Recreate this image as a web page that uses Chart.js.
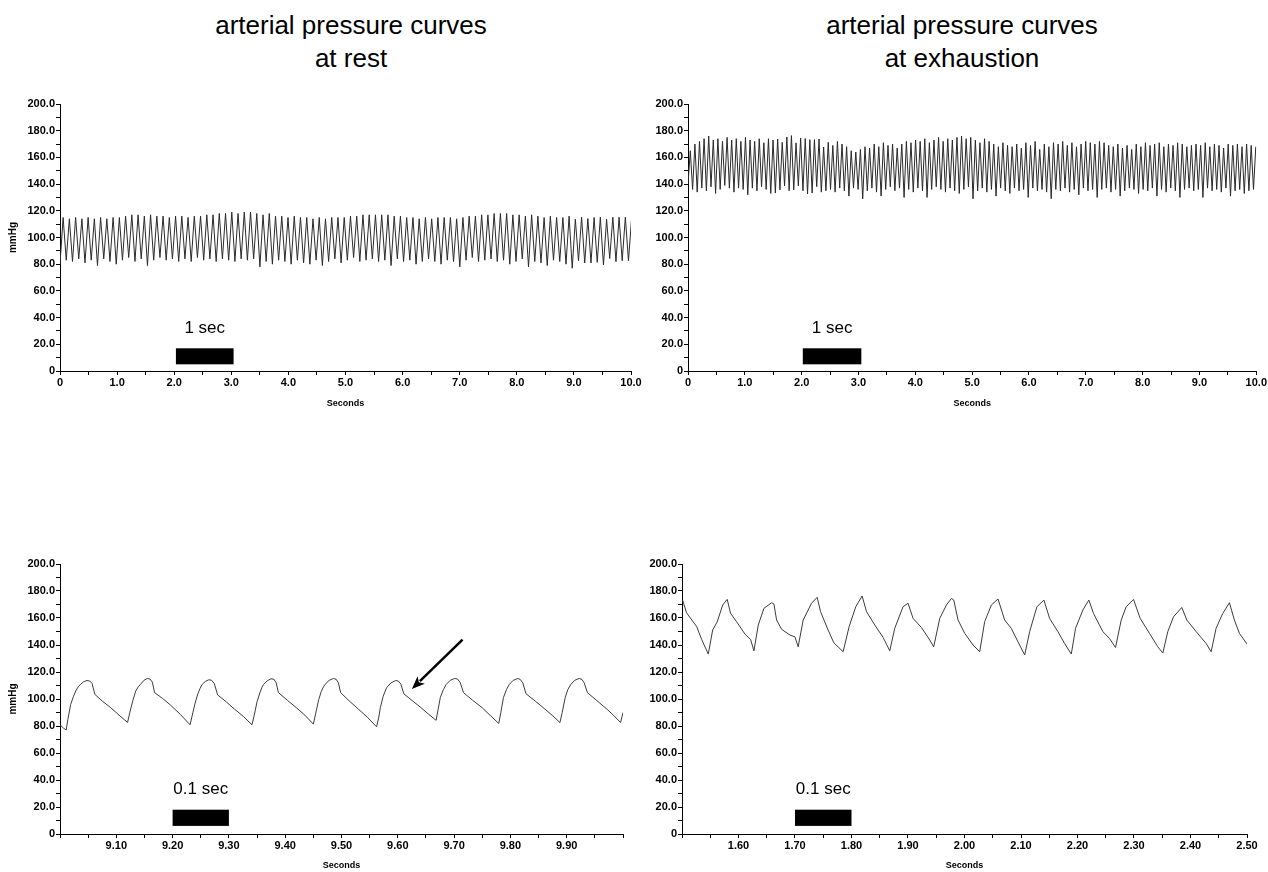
<!DOCTYPE html>
<html>
<head>
<meta charset="utf-8">
<title>arterial pressure curves</title>
<script src="https://cdn.jsdelivr.net/npm/chart.js@4.4.1/dist/chart.umd.min.js"></script>
<style>
  body { margin: 0; background: #fff; font-family: "Liberation Sans", Arial, sans-serif; }
  #page { position: relative; width: 1268px; height: 872px; overflow: hidden; }
  .title { position: absolute; width: 600px; text-align: center; font-size: 26px; line-height: 33px; color: #000; }
  canvas { position: absolute; }
</style>
</head>
<body>
<div id="page">
  <div class="title" style="left:51px; top:9px;">arterial pressure curves<br>at rest</div>
  <div class="title" style="left:662px; top:9px;">arterial pressure curves<br>at exhaustion</div>
  <canvas id="restOverview" width="645" height="330" style="left:0; top:90px;"></canvas>
  <canvas id="exhOverview" width="628" height="330" style="left:640px; top:90px;"></canvas>
  <canvas id="restDetail" width="640" height="322" style="left:0; top:550px;"></canvas>
  <canvas id="exhDetail" width="628" height="322" style="left:640px; top:550px;"></canvas>
</div>
<script>
// 10 s overview: one trough and one peak per beat (mmHg)
var restHalfBeat = 0.0547;
var restTroughs = [80,83,82,84,81,83,79,84,82,80,
    83,85,82,84,79,83,85,83,84,82,
    84,82,85,83,84,82,84,83,82,84,
    83,84,78,82,80,83,82,80,83,81,
    80,83,79,82,84,81,83,85,82,83,
    84,82,83,79,84,82,83,80,82,84,
    82,80,83,82,78,83,85,82,83,84,
    82,83,80,82,84,78,82,81,79,83,
    82,80,77,82.6,80.9,80.9,81.4,79.4,84.2,81.9,82.6,82.6];
var restPeaks = [115,114,115,114,115,114,115,114,115,115,
    116,117,117,116,117,116,116,115,116,116,
    115,116,116,117,117,118,118,119,118,119,
    119,118,117,118,116,116,115,116,115,115,
    114,115,114,115,115,115,116,116,117,117,
    117,117,117,116,116,115,115,114,115,114,
    115,115,115,114,115,116,116,117,117,118,
    118,118,117,117,116,117,116,115,116,115,
    115,116,113.7,115.2,114.2,115,115.2,113.7,115.2,115.2,115.2,114];

var exhHalfBeat = 0.04045;
var exhTroughs = [140,136,134,137,135,138,133,136,139,137,
    134,137,136,132,137,135,138,136,133,133.3,
    135.7,138.7,135,135.7,138.7,135,132.6,133.3,138.1,134,
    135,136,134,137,135,131,137,136,129,135,
    137,134,131,136,138,135,137,130,136,134,
    137,135,130,136,138,136,134,137,135,133,
    136,138,129,135,137,134,136,131,137,135,
    133,137,135,136,130,137,135,136,134,129,
    136,135,137,134,136,132,137,135,136,130,
    136,137,134,136,131,135,137,136,133,136,
    135,137,131,136,134,137,135,130,136,137,
    135,136,130,137,135,136,134,137,131,135,136,133,135,136];
var exhPeaks = [165,170,172,174,176,173,174,172,175,173,
    174,172,175,173,172,174,171,174,173,173.8,
    171.3,175.3,176.3,170.9,174.5,174.1,173.3,173.3,173.8,167.8,
    171.3,169,172,170,168,165,164,166,168,167,
    170,168,171,169,170,167,170,172,171,173,
    172,174,171,173,175,172,174,173,175,176,
    174,175,173,171,174,172,170,168,171,169,
    168,170,167,171,169,172,166,170,168,171,
    170,172,169,171,168,170,172,171,170,172,
    171,169,168,170,167,169,166,170,168,171,
    169,170,171,168,170,169,171,170,168,169,
    170,169,171,168,170,169,167,170,169,170,168,170,169,168];

// 1 s detail traces
var restDetailTime = [9.000,9.006,9.011,9.014,9.019,9.024,9.028,9.033,9.037,9.042,9.048,9.053,9.057,9.062,9.075,9.090,9.105,9.120,
    9.124,9.1295,9.1345,9.139,9.143,9.149,9.155,9.160,9.164,9.168,9.182,9.196,9.214,9.231,
    9.235,9.240,9.245,9.249,9.2525,9.258,9.264,9.269,9.274,9.280,9.295,9.310,9.326,9.341,
    9.345,9.350,9.355,9.3585,9.3615,9.368,9.3747,9.380,9.384,9.388,9.404,9.420,9.435,9.450,
    9.454,9.4595,9.464,9.468,9.4708,9.478,9.4855,9.4905,9.4945,9.4985,9.514,9.530,9.546,9.5623,
    9.566,9.569,9.574,9.580,9.588,9.5965,9.601,9.6055,9.6106,9.625,9.640,9.654,9.668,
    9.6715,9.6755,9.681,9.686,9.693,9.7009,9.706,9.7105,9.7168,9.733,9.750,9.765,9.7793,
    9.783,9.7876,9.793,9.798,9.805,9.813,9.8175,9.822,9.8277,9.844,9.860,9.874,9.888,
    9.892,9.8973,9.902,9.9074,9.914,9.9221,9.927,9.931,9.9368,9.953,9.970,9.983,9.9957,10.0];
var restDetailPressure = [80.9,78.5,77.0,85,96,102,106,109.5,111,112.8,113.7,113.3,111.5,103.4,98.5,93.6,88,82.6,
    90,99,105.9,109,110.8,113.8,115.2,114.8,112.5,104.7,100.5,95.6,88.5,80.9,
    88,97,104,108,110.8,113,114.2,114,111.5,103,98,92.5,87,80.9,
    88,98,104.5,108.5,110.8,113.5,115,114.6,112,104.7,99,93.5,88,81.4,
    89,99.5,105.5,109,110.8,113.8,115.2,114.6,112,104.7,98.5,92.5,86.5,79.4,
    86,93.6,102,108.3,112,113.7,113.3,111,103.9,99,94,89,84.2,
    92,101,107,110.8,113.8,115.2,114.8,112.5,104.7,99,93.5,87.5,81.9,
    90,101,107,110.8,113.8,115.2,114.5,112,103.9,98.5,93,88,82.6,
    90,101,107,110.8,113.8,115.2,114.5,112,104.7,99,93,88,82.6,90];

var exhDetailTime = [1.501,1.508,1.526,1.5348,1.5465,1.5543,1.5624,1.572,1.580,1.586,1.5967,1.6114,1.6214,1.6273,
    1.635,1.645,1.6586,1.6627,1.6674,1.6763,1.691,1.700,1.7056,
    1.7145,1.7292,1.7392,1.7452,1.7586,1.7687,1.7852,
    1.7958,1.8076,1.8188,1.8266,1.8412,1.856,1.8677,
    1.8766,1.8913,1.9001,1.909,1.9237,1.9385,1.9455,
    1.9562,1.968,1.9768,1.981,1.9886,2.0004,2.0151,2.0269,
    2.0357,2.0475,2.0593,2.0711,2.083,2.0947,2.1065,
    2.1153,2.1282,2.1406,2.1506,2.1653,2.1772,2.189,
    2.1966,2.2095,2.2201,2.2284,2.2449,2.2567,2.2673,
    2.2774,2.2862,2.2991,2.311,2.3274,2.3421,2.351,
    2.3598,2.3699,2.3846,2.3935,2.41,2.4277,2.4365,
    2.4453,2.457,2.4689,2.4777,2.4866,2.5013];
var exhDetailPressure = [173.3,163.9,153.6,144.1,133.3,151.1,157.2,169.6,173.8,163.4,157.2,148.1,144.1,135.7,
    154.8,167.2,171.3,170.4,158.5,151.6,147.4,146,138.7,
    158.5,170.9,175.3,164.7,151.1,141.7,135,
    153.6,168.4,176.3,164.7,154.8,145.6,135.7,
    152.4,168.4,170.9,159.7,153,143.7,138.7,
    159.7,169.6,174.5,173.3,158.5,148.6,140,135,
    157.2,169.6,174.1,158.5,152.2,142.3,132.6,
    149.9,168.4,173.3,159.7,149.9,141.1,133.3,
    152.4,165.9,173.3,163.3,149.9,144.8,138.1,
    158.5,168.4,173.8,159.7,148.6,138.7,134,
    149.9,160.9,167.8,158.5,149.9,141.1,135,
    152.4,163.3,171.3,158.5,148.6,140];

// axes
var pressureTicks = [0,10,20,30,40,50,60,70,80,90,100,110,120,130,140,150,160,170,180,190,200];
var overviewTicks = [0,0.5,1,1.5,2,2.5,3,3.5,4,4.5,5,5.5,6,6.5,7,7.5,8,8.5,9,9.5,10];
var restDetailTicks = [9.00,9.05,9.10,9.15,9.20,9.25,9.30,9.35,9.40,9.45,9.50,9.55,9.60,9.65,9.70,9.75,9.80,9.85,9.90,9.95,10.00];
var restDetailLabels = ['9.10','9.20','9.30','9.40','9.50','9.60','9.70','9.80','9.90'];
var exhDetailTicks = [1.50,1.55,1.60,1.65,1.70,1.75,1.80,1.85,1.90,1.95,2.00,2.05,2.10,2.15,2.20,2.25,2.30,2.35,2.40,2.45,2.50];
var exhDetailLabels = ['1.60','1.70','1.80','1.90','2.00','2.10','2.20','2.30','2.40','2.50'];

// scale bars [from, to, bottom, top] and their labels
var restOverviewBar = [2.03, 3.04, 5, 17];
var exhOverviewBar = [2.02, 3.05, 5, 17];
var restDetailBar = [9.20, 9.30, 6, 18];
var exhDetailBar = [1.70, 1.80, 6, 18];
var overviewBarText = '1 sec';
var detailBarText = '0.1 sec';

// arrow on the dicrotic notch: [sec, mmHg] tail and tip
var notchArrowFrom = [9.715, 144];
var notchArrowTo = [9.625, 107.4];

function beatsToPoints(troughs, peaks, halfBeat) {
    var pts = [];
    for (var i = 0; i < troughs.length; i++) {
        pts.push({ x: 2 * i * halfBeat, y: troughs[i] });
        if (i < peaks.length) pts.push({ x: (2 * i + 1) * halfBeat, y: peaks[i] });
    }
    return pts;
}

function zipPoints(xs, ys) {
    return xs.map(function (x, i) { return { x: x, y: ys[i] }; });
}

var overlayPlugin = {
    id: 'overlay',
    afterDatasetsDraw: function (chart, args, opts) {
        var ctx = chart.ctx, xs = chart.scales.x, ys = chart.scales.y;
        ctx.save();
        if (opts.bar) {
            var b = opts.bar;
            var x0 = xs.getPixelForValue(b[0]), x1 = xs.getPixelForValue(b[1]);
            var y0 = ys.getPixelForValue(b[3]), y1 = ys.getPixelForValue(b[2]);
            ctx.fillStyle = '#000';
            ctx.fillRect(x0, y0, x1 - x0, y1 - y0);
            ctx.font = '17px "Liberation Sans", Arial, sans-serif';
            ctx.textAlign = 'center';
            ctx.textBaseline = 'middle';
            ctx.fillText(opts.text, (x0 + x1) / 2, ys.getPixelForValue(opts.textAt));
        }
        if (opts.arrow) {
            var ax = xs.getPixelForValue(opts.arrow[0][0]), ay = ys.getPixelForValue(opts.arrow[0][1]);
            var bx = xs.getPixelForValue(opts.arrow[1][0]), by = ys.getPixelForValue(opts.arrow[1][1]);
            var ang = Math.atan2(by - ay, bx - ax);
            var head = 14;
            ctx.strokeStyle = '#000';
            ctx.fillStyle = '#000';
            ctx.lineWidth = 2.5;
            ctx.beginPath();
            ctx.moveTo(ax, ay);
            ctx.lineTo(bx - Math.cos(ang) * head * 0.8, by - Math.sin(ang) * head * 0.8);
            ctx.stroke();
            ctx.beginPath();
            ctx.moveTo(bx, by);
            ctx.lineTo(bx - head * Math.cos(ang - 0.38), by - head * Math.sin(ang - 0.38));
            ctx.lineTo(bx - head * 0.7 * Math.cos(ang), by - head * 0.7 * Math.sin(ang));
            ctx.lineTo(bx - head * Math.cos(ang + 0.38), by - head * Math.sin(ang + 0.38));
            ctx.closePath();
            ctx.fill();
        }
        ctx.restore();
    }
};

var tickFont = { family: '"Liberation Sans", Arial, sans-serif', size: 11, weight: 'bold' };

function makeChart(id, c) {
    return new Chart(document.getElementById(id), {
        type: 'line',
        data: {
            datasets: [{
                data: c.points,
                borderColor: c.color,
                borderWidth: 1,
                pointRadius: 0,
                tension: 0
            }]
        },
        options: {
            responsive: false,
            animation: false,
            events: [],
            layout: { autoPadding: false, padding: { left: 0, top: 14, right: c.padRight, bottom: 0 } },
            plugins: {
                legend: { display: false },
                tooltip: { enabled: false },
                overlay: { bar: c.bar, text: c.barText, textAt: c.barTextAt, arrow: c.arrow }
            },
            scales: {
                x: {
                    type: 'linear',
                    min: c.xMin,
                    max: c.xMax,
                    afterBuildTicks: function (s) { s.ticks = c.xTicks.map(function (v) { return { value: v }; }); },
                    afterFit: function (s) { s.height = c.xHeight; },
                    ticks: {
                        autoSkip: false, maxRotation: 0, padding: 1, color: '#000', font: tickFont,
                        callback: c.xLabel
                    },
                    grid: { drawOnChartArea: false, drawTicks: true, tickLength: 4, color: '#000' },
                    border: { display: true, color: '#000', width: 1 },
                    title: {
                        display: true, text: 'Seconds', color: '#000',
                        font: { family: '"Liberation Sans", Arial, sans-serif', size: 9, weight: 'bold' },
                        padding: { top: 0, bottom: c.titlePad }
                    }
                },
                y: {
                    min: 0,
                    max: 200,
                    afterBuildTicks: function (s) { s.ticks = pressureTicks.map(function (v) { return { value: v }; }); },
                    afterFit: function (s) { s.width = c.yWidth; },
                    ticks: {
                        autoSkip: false, padding: 1, color: '#000', font: tickFont,
                        callback: function (v) {
                            if (v % 20 !== 0) return '';
                            return v === 0 ? '0' : v.toFixed(1);
                        }
                    },
                    grid: { drawOnChartArea: false, drawTicks: true, tickLength: 4, color: '#000' },
                    border: { display: true, color: '#000', width: 1 },
                    title: {
                        display: c.yTitle, text: 'mmHg', color: '#000',
                        font: { family: '"Liberation Sans", Arial, sans-serif', size: 10, weight: 'bold' },
                        padding: { top: 7, bottom: 0 }
                    }
                }
            }
        },
        plugins: [overlayPlugin]
    });
}

function overviewLabel(v) {
    if (v % 1 !== 0) return '';
    return v === 0 ? '0' : v.toFixed(1);
}

makeChart('restOverview', {
    points: beatsToPoints(restTroughs, restPeaks, restHalfBeat), color: '#2a2a2a',
    xMin: 0, xMax: 10, xTicks: overviewTicks, xLabel: overviewLabel,
    padRight: 14, yWidth: 60, xHeight: 49, titlePad: 10.6, yTitle: true,
    bar: restOverviewBar, barText: overviewBarText, barTextAt: 32
});

makeChart('exhOverview', {
    points: beatsToPoints(exhTroughs, exhPeaks, exhHalfBeat), color: '#2a2a2a',
    xMin: 0, xMax: 10, xTicks: overviewTicks, xLabel: overviewLabel,
    padRight: 11, yWidth: 48, xHeight: 49, titlePad: 10.6, yTitle: false,
    bar: exhOverviewBar, barText: overviewBarText, barTextAt: 32
});

makeChart('restDetail', {
    points: zipPoints(restDetailTime, restDetailPressure), color: '#3c3c3c',
    xMin: 9.0, xMax: 10.0, xTicks: restDetailTicks,
    xLabel: function (v) { var t = v.toFixed(2); return restDetailLabels.indexOf(t) >= 0 ? t : ''; },
    padRight: 17, yWidth: 60, xHeight: 38, titlePad: 0.6, yTitle: true,
    bar: restDetailBar, barText: detailBarText, barTextAt: 33,
    arrow: [notchArrowFrom, notchArrowTo]
});

makeChart('exhDetail', {
    points: zipPoints(exhDetailTime, exhDetailPressure), color: '#3c3c3c',
    xMin: 1.5, xMax: 2.5, xTicks: exhDetailTicks,
    xLabel: function (v) { var t = v.toFixed(2); return exhDetailLabels.indexOf(t) >= 0 ? t : ''; },
    padRight: 21, yWidth: 42, xHeight: 38, titlePad: 0.6, yTitle: false,
    bar: exhDetailBar, barText: detailBarText, barTextAt: 33
});
</script>
</body>
</html>
